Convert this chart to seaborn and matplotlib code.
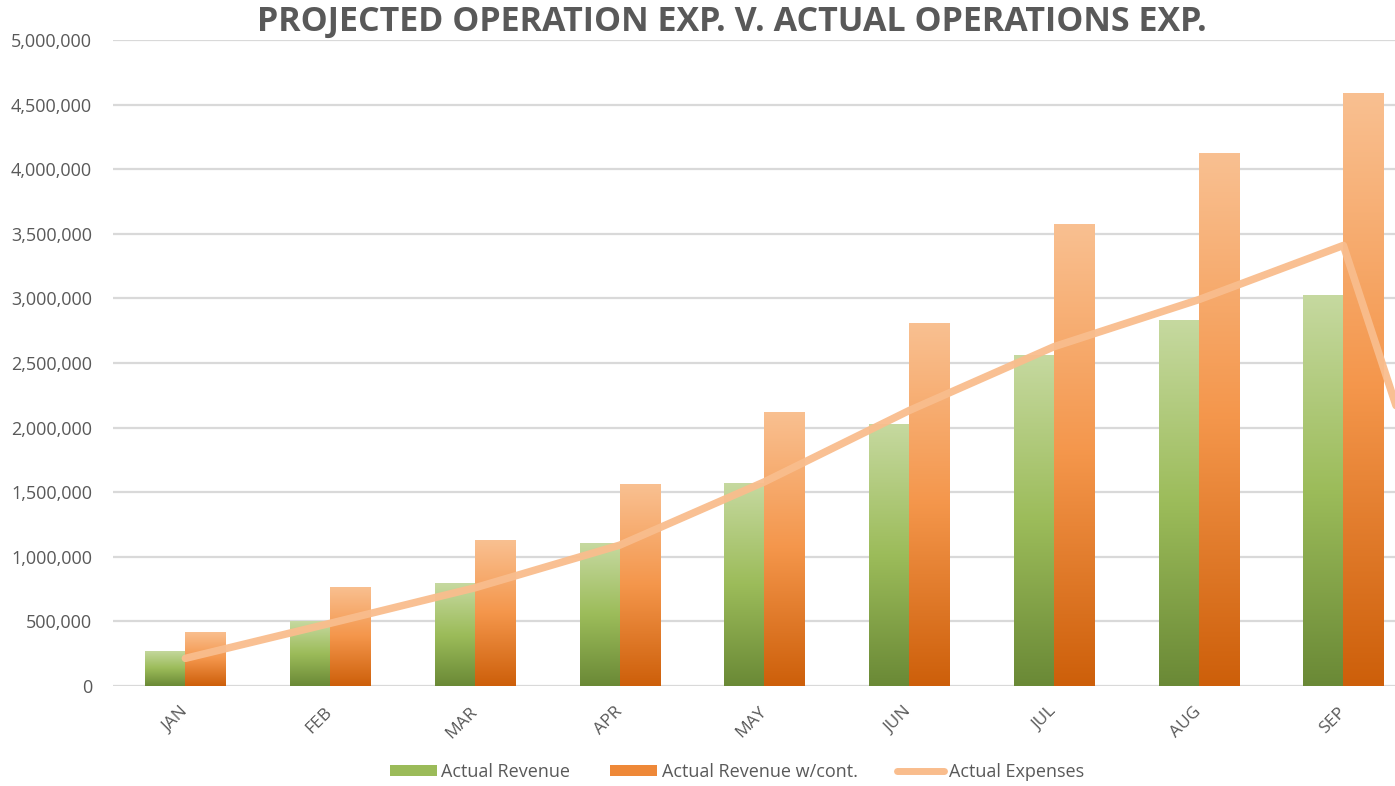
import numpy as np
import pandas as pd
import matplotlib
matplotlib.use("Agg")
import matplotlib.pyplot as plt
import seaborn as sns
from matplotlib.patches import Patch
from matplotlib.lines import Line2D
from matplotlib.colors import LinearSegmentedColormap

# ---------------- data ----------------
months = ["JAN", "FEB", "MAR", "APR", "MAY", "JUN", "JUL", "AUG", "SEP", "OCT"]
actual_revenue = [273000, 500000, 795000, 1104000, 1574000, 2028000, 2562000, 2833000, 3030000, 0]
actual_revenue_cont = [420000, 770000, 1130000, 1561000, 2123000, 2807000, 3573000, 4122000, 4590000, 0]
actual_expenses = [214000, 485000, 760000, 1090000, 1580000, 2132000, 2626000, 2990000, 3410000, 0]
series_names = ["Actual Revenue", "Actual Revenue w/cont.", "Actual Expenses"]
y_ticks = [0, 500000, 1000000, 1500000, 2000000, 2500000, 3000000, 3500000, 4000000, 4500000, 5000000]
y_tick_labels = ["0", "500,000", "1,000,000", "1,500,000", "2,000,000", "2,500,000",
                 "3,000,000", "3,500,000", "4,000,000", "4,500,000", "5,000,000"]
visible_months = months[:9]
title = "PROJECTED OPERATION EXP. V. ACTUAL OPERATIONS EXP."

# ---------------- style ----------------
sns.set_theme(style="white")
plt.rcParams["font.family"] = ["Open Sans", "DejaVu Sans"]
TEXT = "#595959"
GREEN = "#9BBB59"
ORANGE = "#F4954A"
LINE = "#F9BD8D"

green_cmap = LinearSegmentedColormap.from_list("g", ["#6A8936", "#9CBC5A", "#C6D9A0"])
orange_cmap = LinearSegmentedColormap.from_list("o", ["#CD5F0A", "#F4964B", "#F9C091"])

df = pd.DataFrame({
    "month": months * 2,
    "value": actual_revenue + actual_revenue_cont,
    "series": [series_names[0]] * len(months) + [series_names[1]] * len(months),
})

W, H = 1395, 786
fig = plt.figure(figsize=(W / 100, H / 100), dpi=100)
cat_px = 144.75
ax = fig.add_axes([113 / W, 100 / H, len(months) * cat_px / W, 646 / H])

sns.barplot(data=df, x="month", y="value", hue="series", order=months,
            hue_order=series_names[:2], palette=[GREEN, ORANGE], width=0.553,
            gap=0, saturation=1, errorbar=None, legend=False, ax=ax)

# gradient fill of each bar
for i, patch in enumerate(list(ax.patches)):
    h = patch.get_height()
    if not np.isfinite(h) or h <= 0:
        continue
    x0, w = patch.get_x(), patch.get_width()
    fc = patch.get_facecolor()
    cmap = green_cmap if fc[1] > 0.6 and fc[0] < 0.7 else orange_cmap
    grad = np.linspace(0, 1, 256).reshape(-1, 1)
    im = ax.imshow(grad, extent=[x0, x0 + w, 0, h], origin="lower", aspect="auto",
                   cmap=cmap, zorder=2, interpolation="bilinear")
    im.set_clip_path(patch)
    patch.set_facecolor("none")
    patch.set_edgecolor("none")

x_idx = np.arange(len(months))
sns.lineplot(x=x_idx, y=actual_expenses, color=LINE, linewidth=5.4, ax=ax,
             zorder=5, alpha=0.95, solid_joinstyle="round", solid_capstyle="round")

ax.set_xlim(-0.5, len(months) - 0.5)
ax.set_ylim(0, 5000000)
ax.set_yticks(y_ticks)
ax.set_yticklabels(y_tick_labels, color=TEXT, fontsize=13)
ax.set_xticks(np.arange(len(visible_months)))
ax.set_xticklabels(visible_months, rotation=45, ha="right", va="center",
                   rotation_mode="anchor", color=TEXT, fontsize=12.5)
ax.tick_params(axis="y", length=0, pad=15)
ax.tick_params(axis="x", length=0, pad=17)
ax.grid(axis="y", color="#D9D9D9", linewidth=1.6)
ax.set_axisbelow(True)
for s in ax.spines.values():
    s.set_visible(False)
ax.set_xlabel("")
ax.set_ylabel("")

fig.text(732 / W, 1 - 22 / H, title, ha="center", va="center", fontsize=24.5,
         fontweight="bold", color=TEXT)

handles = [Patch(facecolor=GREEN, edgecolor="none"),
           Patch(facecolor="#EE8838", edgecolor="none"),
           Line2D([0], [0], color=LINE, linewidth=5)]
fig.legend(handles, series_names, loc="center", bbox_to_anchor=(737 / W, 1 - 772 / H),
           ncol=3, frameon=False, fontsize=13, handlelength=2.6, handleheight=0.55,
           handletextpad=0.25, columnspacing=2.2, labelcolor=TEXT)

fig.savefig("out.png", dpi=100)
